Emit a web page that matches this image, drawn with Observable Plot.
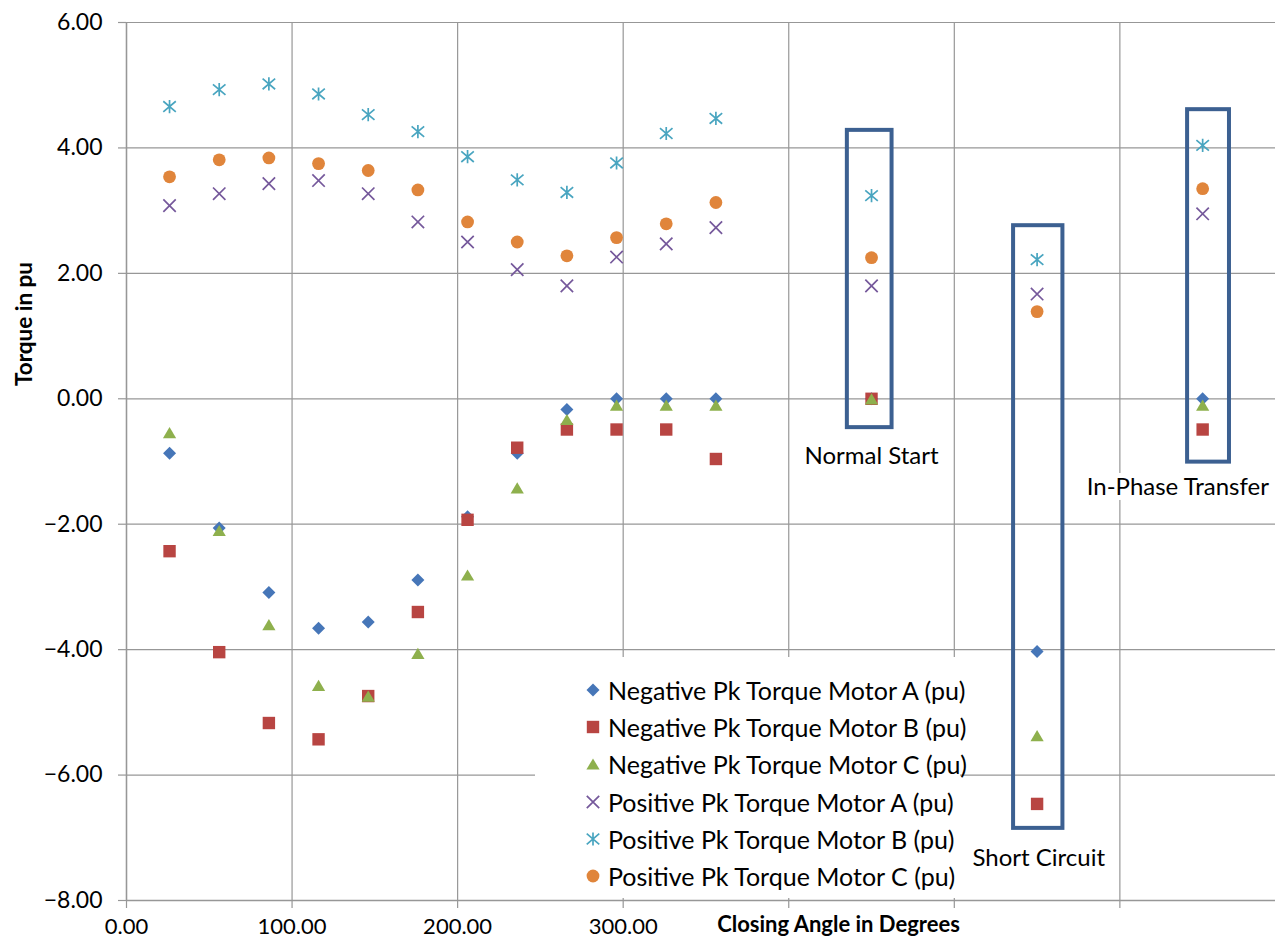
<!DOCTYPE html>
<html>
<head>
<meta charset="utf-8">
<script src="https://cdn.jsdelivr.net/npm/d3@7"></script>
<script src="https://cdn.jsdelivr.net/npm/@observablehq/plot@0.6"></script>
<style>
  html, body { margin: 0; padding: 0; background: #fff; }
  #wrap { position: relative; width: 1275px; height: 941px; overflow: hidden; font-family: Lato, "Open Sans", sans-serif; }
  #legend { position: absolute; left: 535px; top: 657px; width: 425px; height: 241px; background: #fff; }
  .lrow { position: absolute; left: 0; height: 32px; width: 425px; }
  .lrow svg { position: absolute; left: 43px; top: 1px; }
  .lrow span { position: absolute; left: 73px; top: 0; line-height: 32px; font-size: 25px; color: #000; white-space: nowrap; }
</style>
</head>
<body>
<div id="wrap"></div>
<script>
// ---------- data ----------
const sweepAngles = [26, 56, 86, 116, 146, 176, 206, 236, 266, 296, 326, 356];
const eventAngles = [450, 550, 650];
const eventNames = ["Normal Start", "Short Circuit", "In-Phase Transfer"];

const seriesNames = [
  "Negative Pk Torque Motor A (pu)",
  "Negative Pk Torque Motor B (pu)",
  "Negative Pk Torque Motor C (pu)",
  "Positive Pk Torque Motor A (pu)",
  "Positive Pk Torque Motor B (pu)",
  "Positive Pk Torque Motor C (pu)"
];

const negA = [-0.87, -2.06, -3.09, -3.66, -3.56, -2.89, -1.88, -0.87, -0.17, 0.00, 0.00, 0.00];
const negAEvents = [0.00, -4.03, 0.00];
const negB = [-2.43, -4.04, -5.17, -5.43, -4.74, -3.40, -1.93, -0.78, -0.49, -0.49, -0.49, -0.96];
const negBEvents = [0.00, -6.46, -0.49];
const negC = [-0.54, -2.10, -3.60, -4.57, -4.74, -4.06, -2.81, -1.42, -0.33, -0.10, -0.10, -0.10];
const negCEvents = [0.00, -5.37, -0.10];
const posA = [3.08, 3.27, 3.43, 3.48, 3.27, 2.82, 2.50, 2.06, 1.80, 2.26, 2.47, 2.73];
const posAEvents = [1.80, 1.67, 2.95];
const posB = [4.66, 4.93, 5.02, 4.86, 4.53, 4.26, 3.86, 3.49, 3.29, 3.76, 4.23, 4.47];
const posBEvents = [3.24, 2.22, 4.04];
const posC = [3.54, 3.81, 3.84, 3.75, 3.64, 3.33, 2.82, 2.50, 2.28, 2.57, 2.79, 3.13];
const posCEvents = [2.25, 1.39, 3.35];

// annotation boxes around each event (data units)
const boxLeft   = [435.4, 535.8, 640.9];
const boxRight  = [462.4, 565.6, 666.2];
const boxTop    = [4.28, 2.76, 4.61];
const boxBottom = [-0.46, -6.85, -1.01];
// annotation label anchors (data units)
const labelAngle  = [450, 551, 635];
const labelTorque = [-0.92, -7.33, -1.41];

const xTicks = [0, 100, 200, 300, 400, 500, 600];
const xTickLabels = ["0.00", "100.00", "200.00", "300.00", "", "", ""];
const yTicks = [-8, -6, -4, -2, 0, 2, 4, 6];

// ---------- styles ----------
const colors = ["#4676B8", "#B84542", "#8EB04D", "#75589B", "#49A5C0", "#E0853B"];
const gridColor = "#979797";
const boxColor = "#3C6091";

// custom Excel-like marker symbols (r = sqrt(size/PI) like Plot's r)
const rOf = size => Math.sqrt(size / Math.PI);
const symDiamond = { draw(c, s) { const r = rOf(s); c.moveTo(0, -r); c.lineTo(r, 0); c.lineTo(0, r); c.lineTo(-r, 0); c.closePath(); } };
const symSquare = { draw(c, s) { const r = rOf(s); c.moveTo(-r, -r); c.lineTo(r, -r); c.lineTo(r, r); c.lineTo(-r, r); c.closePath(); } };
const symTriangle = { draw(c, s) { const r = rOf(s); c.moveTo(0, -r); c.lineTo(1.18 * r, r); c.lineTo(-1.18 * r, r); c.closePath(); } };
const symTimes = { draw(c, s) { const r = rOf(s); c.moveTo(-r, -r); c.lineTo(r, r); c.moveTo(-r, r); c.lineTo(r, -r); } };
const symAsterisk = { draw(c, s) { const r = rOf(s); c.moveTo(0, -r); c.lineTo(0, r); c.moveTo(-0.95 * r, -0.8 * r); c.lineTo(0.95 * r, 0.8 * r); c.moveTo(-0.95 * r, 0.8 * r); c.lineTo(0.95 * r, -0.8 * r); } };

const markerSpec = [
  { symbol: symDiamond, r: 6.5, filled: true },
  { symbol: symSquare, r: 6.2, filled: true },
  { symbol: symTriangle, r: 5.6, filled: true },
  { symbol: symTimes, r: 6.2, filled: false },
  { symbol: symAsterisk, r: 6.6, filled: false },
  { symbol: "circle", r: 6.4, filled: true }
];

const seriesSweep = [negA, negB, negC, posA, posB, posC];
const seriesEvents = [negAEvents, negBEvents, negCEvents, posAEvents, posBEvents, posCEvents];

const table = [];
seriesNames.forEach((name, k) => {
  sweepAngles.forEach((a, i) => table.push({ series: name, angle: a, torque: seriesSweep[k][i] }));
  eventAngles.forEach((a, i) => table.push({ series: name, angle: a, torque: seriesEvents[k][i] }));
});

const boxes = eventNames.map((n, i) => ({ name: n, x1: boxLeft[i], x2: boxRight[i], y1: boxBottom[i], y2: boxTop[i] }));
const labels = eventNames.map((n, i) => ({ name: n, x: labelAngle[i], y: labelTorque[i] }));

const dotMarks = seriesNames.map((name, k) => {
  const m = markerSpec[k];
  return Plot.dot(table.filter(d => d.series === name), {
    x: "angle", y: "torque", symbol: m.symbol, r: m.r,
    fill: m.filled ? colors[k] : "none",
    stroke: m.filled ? "none" : colors[k],
    strokeWidth: m.filled ? 0 : 1.7
  });
});

const fmt = d3.format(".2f");

const chart = Plot.plot({
  width: 1275,
  height: 941,
  marginLeft: 126,
  marginRight: 0,
  marginTop: 22,
  marginBottom: 41,
  x: { domain: [0, 694] },
  y: { domain: [-8, 6] },
  style: { fontFamily: "Lato, 'Open Sans', sans-serif", fontSize: "23px", color: "#000", background: "#fff", overflow: "visible" },
  marks: [
    Plot.gridX(xTicks, { stroke: gridColor, strokeOpacity: 1, strokeWidth: 1.2 }),
    Plot.gridY(yTicks, { stroke: gridColor, strokeOpacity: 1, strokeWidth: 1.2 }),
    Plot.ruleX([0], { stroke: gridColor, strokeWidth: 1.4 }),
    Plot.ruleY([-8], { stroke: gridColor, strokeWidth: 1.4 }),
    Plot.axisY({ ticks: yTicks, tickSize: 8, tickPadding: 16, tickFormat: fmt, stroke: gridColor, strokeWidth: 1.2, fill: "#000", label: null }),
    Plot.axisX({ ticks: xTicks, tickSize: 8, tickPadding: 10, fontSize: 22, tickFormat: d => xTickLabels[xTicks.indexOf(d)], stroke: gridColor, strokeWidth: 1.2, fill: "#000", label: null }),
    Plot.rect(boxes, { x1: "x1", x2: "x2", y1: "y1", y2: "y2", fill: "none", stroke: boxColor, strokeWidth: 4 }),
    ...dotMarks,
    Plot.text(labels, { x: "x", y: "y", text: "name", fontSize: 24, fill: "#fff", stroke: "#fff", strokeWidth: 10, strokeLinejoin: "round" }),
    Plot.text(labels, { x: "x", y: "y", text: "name", fontSize: 24, fill: "#000" }),
    Plot.text(["Torque in pu"], { frameAnchor: "left", textAnchor: "middle", lineAnchor: "middle", rotate: -90, dx: -102, dy: -137.5, fontWeight: "bold", fontSize: 22.5, fill: "#000" }),
    Plot.text(["Closing Angle in Degrees"], { frameAnchor: "bottom", textAnchor: "middle", lineAnchor: "middle", dx: 137.5, dy: 24, fontWeight: "bold", fontSize: 22, fill: "#000" })
  ]
});

const wrap = document.getElementById("wrap");
wrap.appendChild(chart);

// ---------- legend (overlay inside plot area, like the original) ----------
const legend = document.createElement("div");
legend.id = "legend";
seriesNames.forEach((name, k) => {
  const m = markerSpec[k];
  const row = document.createElement("div");
  row.className = "lrow";
  row.style.top = (33 - 16 + 37.2 * k) + "px";
  const svg = d3.create("svg").attr("width", 30).attr("height", 30);
  const type = typeof m.symbol === "string" ? d3.symbolCircle : m.symbol;
  svg.append("path")
    .attr("transform", "translate(15,15)")
    .attr("d", d3.symbol(type, Math.PI * m.r * m.r)())
    .attr("fill", m.filled ? colors[k] : "none")
    .attr("stroke", m.filled ? "none" : colors[k])
    .attr("stroke-width", m.filled ? 0 : 1.7);
  row.appendChild(svg.node());
  const span = document.createElement("span");
  span.textContent = name;
  row.appendChild(span);
  legend.appendChild(row);
});
wrap.appendChild(legend);
</script>
</body>
</html>
